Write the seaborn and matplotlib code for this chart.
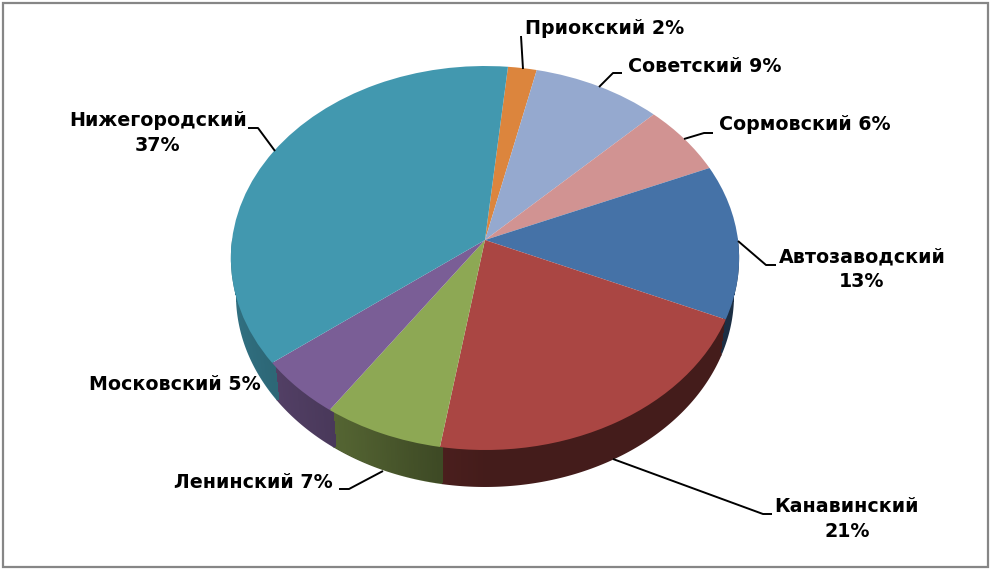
import numpy as np
import pandas as pd
import matplotlib
matplotlib.use("Agg")
import matplotlib.pyplot as plt
import seaborn as sns
from matplotlib.collections import PolyCollection
from matplotlib.patches import Polygon, Rectangle
from matplotlib.transforms import Transform

districts = ["Приокский", "Советский", "Сормовский", "Автозаводский",
             "Канавинский", "Ленинский", "Московский", "Нижегородский"]
shares = [2, 9, 6, 13, 21, 7, 5, 37]
slice_colors = ["#DC853D", "#95A9CF", "#D19392", "#4572A7",
                "#AA4643", "#8DA854", "#7A5E96", "#4298AF"]

df = pd.DataFrame({"district": districts, "share": shares, "color": slice_colors})

# image pixels of the pie centre and the size of the tilted disc
CX, CY = 485, 240
RX, RY, TILT = 253, 190.3, 0.09375
DEPTH, SHRINK = 37, 0.98


class Tilt(Transform):
    # puts the flat unit pie on the tilted plane, nearer side gets bigger
    input_dims = output_dims = 2

    def transform_non_affine(self, values):
        values = np.asarray(values, dtype=float)
        w = 1 + TILT * values[:, 1]
        return np.column_stack([CX + RX * values[:, 0] / w, CY - RY * values[:, 1] / w])


def wall_shade(x_pos):
    return np.interp(x_pos, [-1, -0.75, -0.5, -0.17, 0.0, 1], [0.74, 0.66, 0.58, 0.44, 0.40, 0.40])


sns.set_theme(style="white")
plt.rcParams["font.family"] = ["DejaVu Sans"]

fig, ax = plt.subplots(figsize=(9.91, 5.71), dpi=100)
fig.subplots_adjust(left=0, right=1, bottom=0, top=1)

wedges, _ = ax.pie(df["share"], colors=sns.color_palette(df["color"].tolist()),
                   startangle=84.3, counterclock=False, radius=1)
ax.set_aspect("auto")
ax.set_xlim(0, 991)
ax.set_ylim(571, 0)
ax.axis("off")

tilt = Tilt()
for w in wedges:
    w.set_transform(tilt + ax.transData)
    w.set_zorder(3)
    w.set_edgecolor("none")

# side wall of each slice: a smooth flat piece, then small quads on it for the shade
quads = []
quad_colors = []
for w, color in zip(wedges, df["color"]):
    angles = np.arange(w.theta1, w.theta2 + 0.5, 0.5)
    t = np.radians(angles)
    t = t[np.sin(t) < 0.02]
    if len(t) < 2:
        continue
    top = tilt.transform(np.column_stack([np.cos(t), np.sin(t)]))
    bottom = np.column_stack([CX + SHRINK * (top[:, 0] - CX), top[:, 1] + DEPTH])
    # quads stay a little inside the flat piece so its smooth edge is what shows
    top_in = np.column_stack([CX + 0.992 * (top[:, 0] - CX), top[:, 1]])
    inner = np.column_stack([CX + (SHRINK - 0.006) * (top[:, 0] - CX), top[:, 1] + DEPTH - 1.5])
    base = np.array(matplotlib.colors.to_rgb(color))
    flat = base * wall_shade(np.cos(t).mean())
    ax.add_patch(Polygon(np.vstack([top, bottom[::-1]]), facecolor=flat, edgecolor="none", zorder=1))
    for i in range(len(t) - 1):
        quads.append([top_in[i], top_in[i + 1], inner[i + 1], inner[i]])
        quad_colors.append(base * wall_shade(np.cos(t[i])))

walls = PolyCollection(quads, facecolors=quad_colors, edgecolors=quad_colors,
                       linewidths=0.5, antialiaseds=False, zorder=2)
ax.add_collection(walls)

# leader lines
leaders = [
    [(521, 36), (523, 69)],
    [(599, 87), (613, 73), (622, 73)],
    [(684, 139), (704, 133), (713, 133)],
    [(738, 241), (766, 265), (776, 265)],
    [(613, 459), (763, 514), (772, 514)],
    [(383, 471), (349, 489), (339, 489)],
    [(275, 151), (258, 128), (248, 128)],
]
for pts in leaders:
    xs, ys = zip(*pts)
    ax.plot(xs, ys, color="black", lw=1.4, zorder=4, solid_capstyle="butt")

# text positions: centre x, centre y of the label block
label_pos = {
    "Приокский": (605, 29, "inline"),
    "Советский": (705, 67, "inline"),
    "Сормовский": (805, 125, "inline"),
    "Автозаводский": (862, 269, "wrap"),
    "Канавинский": (847, 519, "wrap"),
    "Ленинский": (253, 482, "inline"),
    "Московский": (175, 385, "inline"),
    "Нижегородский": (158, 133, "wrap"),
}
for name, share in zip(df["district"], df["share"]):
    x, y, mode = label_pos[name]
    sep = " " if mode == "inline" else "\n"
    ax.text(x, y, f"{name}{sep}{share}%", ha="center", va="center", fontsize=13.7,
            fontweight="bold", color="black", linespacing=1.4, zorder=5)

# chart area border
ax.add_patch(Rectangle((3, 3), 985, 564, fill=False, edgecolor="#868686", lw=1.6, zorder=6))

fig.savefig("out.png", dpi=100, facecolor="white")
